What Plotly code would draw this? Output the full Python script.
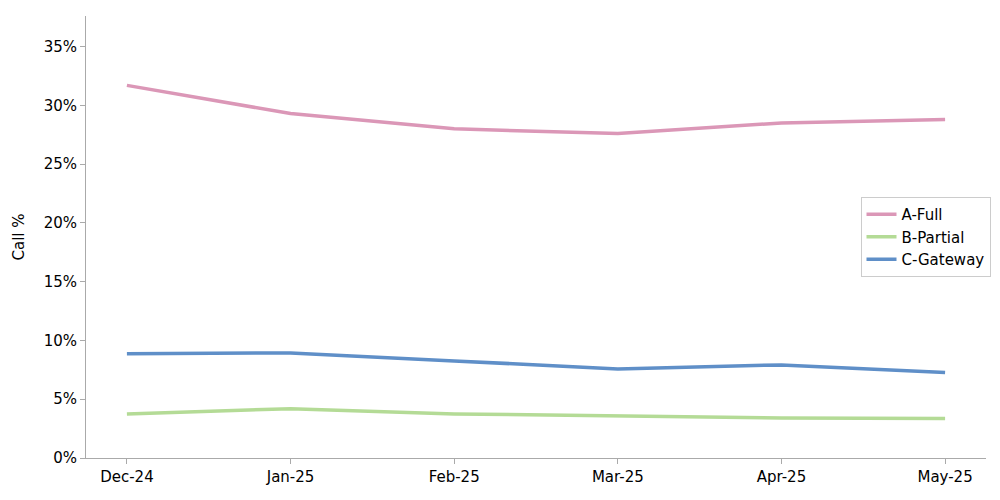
import plotly.graph_objects as go

months = ["Dec-24", "Jan-25", "Feb-25", "Mar-25", "Apr-25", "May-25"]
a_full = [0.317, 0.293, 0.280, 0.276, 0.285, 0.288]
b_partial = [0.0375, 0.042, 0.0375, 0.0355, 0.034, 0.0335]
c_gateway = [0.0886, 0.0894, 0.0826, 0.0758, 0.0792, 0.0728]

fig = go.Figure()
for name, vals, col in [("A-Full", a_full, "#db97b7"),
                        ("B-Partial", b_partial, "#b4db96"),
                        ("C-Gateway", c_gateway, "#5f8fc8")]:
    fig.add_trace(go.Scatter(x=list(range(len(months))), y=vals, name=name,
                             mode="lines", line=dict(color=col, width=3.5)))

fig.update_layout(
    width=1000, height=500, plot_bgcolor="white", paper_bgcolor="white",
    margin=dict(l=78, r=22, t=8, b=50),
    font=dict(family="DejaVu Sans", size=15, color="black"),
    xaxis=dict(tickvals=list(range(len(months))), ticktext=months, range=[-0.25, 5.25],
               showline=True, linecolor="#aaaaaa", ticks="outside", tickcolor="#aaaaaa",
               showgrid=False, zeroline=False, automargin=False),
    yaxis=dict(title=dict(text="Call %", font=dict(size=15)), tickformat=".0%", dtick=0.05,
               range=[0, 0.376], showline=True, linecolor="#aaaaaa", ticks="outside",
               tickcolor="#aaaaaa", showgrid=False, zeroline=False, automargin=False),
    legend=dict(x=1.005, y=0.5, xanchor="right", yanchor="middle", bordercolor="#cccccc",
                borderwidth=1, bgcolor="rgba(255,255,255,0.8)", font=dict(size=15)),
)
fig.write_html("out.html")
